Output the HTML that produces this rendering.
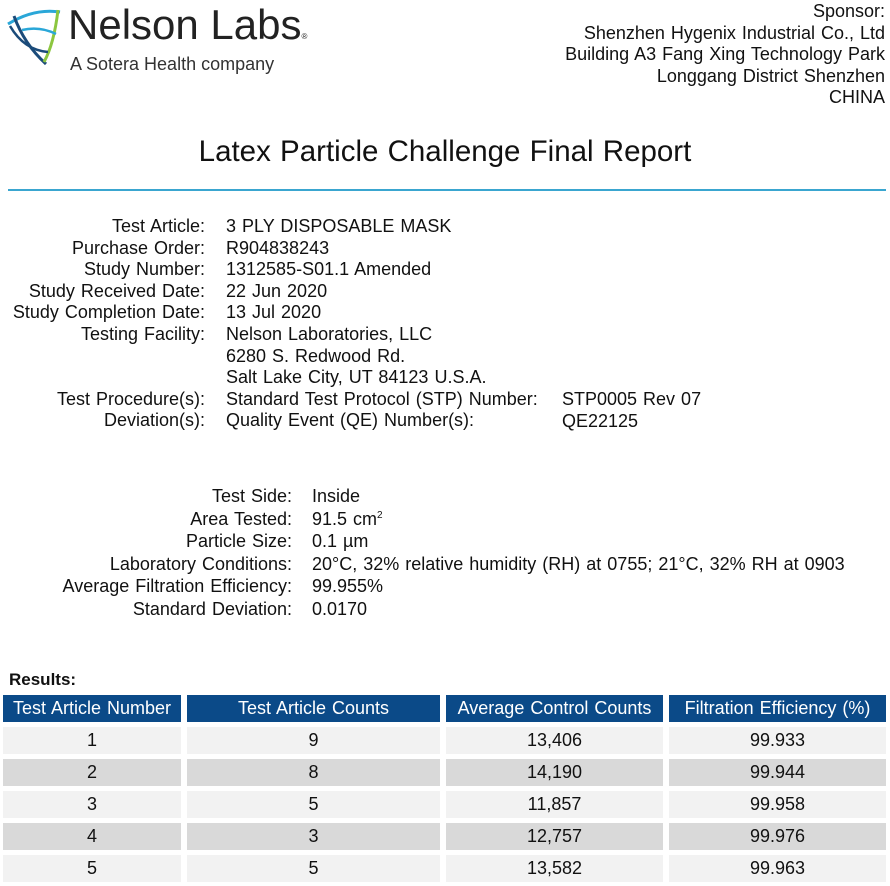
<!DOCTYPE html>
<html><head><meta charset="utf-8"><style>
body{margin:0;width:890px;height:886px;background:#fff;position:relative;font-family:"Liberation Sans",Arial,sans-serif;color:#111;overflow:hidden}
.t{position:absolute;font-size:18px;line-height:20px;white-space:nowrap;word-spacing:1px;letter-spacing:0px}
.r{text-align:right}
.cell{position:absolute;text-align:center;font-size:18px;line-height:27px;height:27px;word-spacing:1px;white-space:nowrap}
.h{background:#0b4a88;color:#fff}
.l{background:#f2f2f2}
.d{background:#d9d9d9}
</style></head><body>
<svg style="position:absolute;left:4px;top:4px" width="60" height="62" viewBox="0 0 60 62">
<path d="M4 20 Q30 4 56 8" stroke="#2aa7d8" stroke-width="3" fill="none"/>
<path d="M10 12 Q20 40 42 60" stroke="#1b4b7a" stroke-width="3" fill="none"/>
<path d="M54 6 Q50 40 40 58" stroke="#8cc63f" stroke-width="3" fill="none"/>
<path d="M18 26 Q36 22 52 30" stroke="#2aa7d8" stroke-width="2.5" fill="none"/>
<path d="M6 22 Q20 46 44 48" stroke="#1b4b7a" stroke-width="2.5" fill="none"/>
</svg>
<div class="t" style="left:68px;top:2px;font-size:42px;line-height:46px;color:#222;word-spacing:0">Nelson Labs<span style="font-size:8px">®</span></div>
<div class="t" style="left:70px;top:54px;font-size:18px;color:#333;word-spacing:0">A Sotera Health company</div>
<div class="t r" style="right:5px;top:1px;line-height:21.5px">Sponsor:<br>Shenzhen Hygenix Industrial Co., Ltd<br>Building A3 Fang Xing Technology Park<br>Longgang District Shenzhen<br>CHINA</div>
<div class="t" style="left:0;width:890px;text-align:center;top:135px;font-size:29.5px;line-height:34px;word-spacing:1px">Latex Particle Challenge Final Report</div>
<div style="position:absolute;left:8px;width:878px;top:189px;height:2px;background:#3aa6d0"></div>
<div class="t r" style="right:685px;top:216px;line-height:21.6px">Test Article:<br>Purchase Order:<br>Study Number:<br>Study Received Date:<br>Study Completion Date:<br>Testing Facility:<br><br><br>Test Procedure(s):<br>Deviation(s):</div>
<div class="t" style="left:226px;top:216px;line-height:21.6px">3 PLY DISPOSABLE MASK<br>R904838243<br>1312585-S01.1 Amended<br>22 Jun 2020<br>13 Jul 2020<br>Nelson Laboratories, LLC<br>6280 S. Redwood Rd.<br>Salt Lake City, UT 84123 U.S.A.<br>Standard Test Protocol (STP) Number:<br>Quality Event (QE) Number(s):</div>
<div class="t" style="left:562px;top:389px;line-height:21.6px">STP0005 Rev 07<br>QE22125</div>
<div class="t r" style="right:598px;top:485px;line-height:22.6px">Test Side:<br>Area Tested:<br>Particle Size:<br>Laboratory Conditions:<br>Average Filtration Efficiency:<br>Standard Deviation:</div>
<div class="t" style="left:312px;top:485px;line-height:22.6px">Inside<br>91.5 cm<sup style="font-size:10px;line-height:0">2</sup><br>0.1 µm<br>20°C, 32% relative humidity (RH) at 0755; 21°C, 32% RH at 0903<br>99.955%<br>0.0170</div>
<div class="t" style="left:9px;top:670px;font-weight:bold;font-size:17px">Results:</div>
<div class="cell h" style="left:3px;width:178px;top:695px">Test Article Number</div>
<div class="cell h" style="left:187px;width:253px;top:695px">Test Article Counts</div>
<div class="cell h" style="left:446px;width:217px;top:695px">Average Control Counts</div>
<div class="cell h" style="left:669px;width:217px;top:695px">Filtration Efficiency (%)</div>

<div class="cell l" style="left:3px;width:178px;top:727px">1</div><div class="cell l" style="left:187px;width:253px;top:727px">9</div><div class="cell l" style="left:446px;width:217px;top:727px">13,406</div><div class="cell l" style="left:669px;width:217px;top:727px">99.933</div>
<div class="cell d" style="left:3px;width:178px;top:759px">2</div><div class="cell d" style="left:187px;width:253px;top:759px">8</div><div class="cell d" style="left:446px;width:217px;top:759px">14,190</div><div class="cell d" style="left:669px;width:217px;top:759px">99.944</div>
<div class="cell l" style="left:3px;width:178px;top:791px">3</div><div class="cell l" style="left:187px;width:253px;top:791px">5</div><div class="cell l" style="left:446px;width:217px;top:791px">11,857</div><div class="cell l" style="left:669px;width:217px;top:791px">99.958</div>
<div class="cell d" style="left:3px;width:178px;top:823px">4</div><div class="cell d" style="left:187px;width:253px;top:823px">3</div><div class="cell d" style="left:446px;width:217px;top:823px">12,757</div><div class="cell d" style="left:669px;width:217px;top:823px">99.976</div>
<div class="cell l" style="left:3px;width:178px;top:855px">5</div><div class="cell l" style="left:187px;width:253px;top:855px">5</div><div class="cell l" style="left:446px;width:217px;top:855px">13,582</div><div class="cell l" style="left:669px;width:217px;top:855px">99.963</div>
</body></html>
